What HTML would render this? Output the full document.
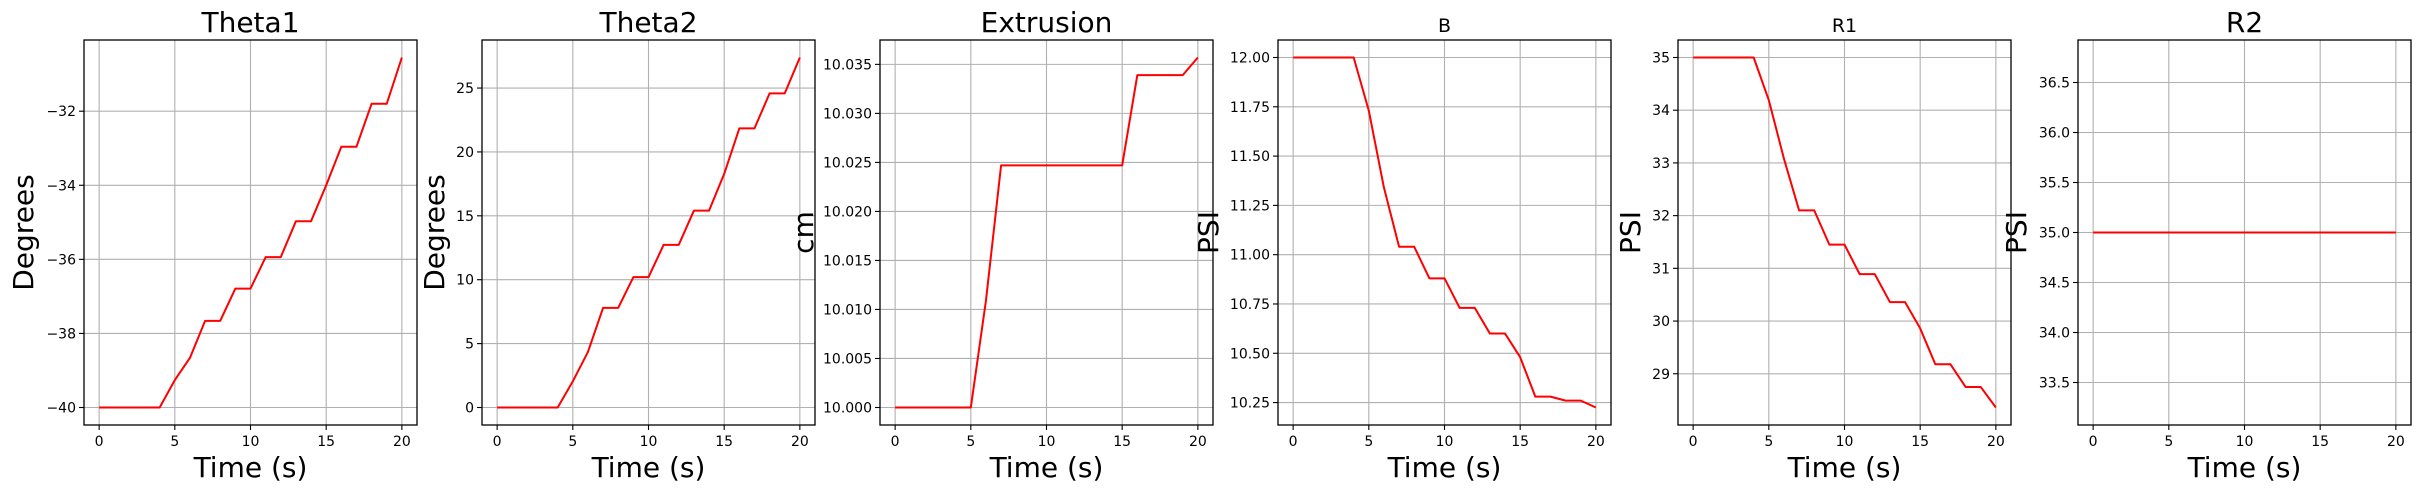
<!DOCTYPE html>
<html><head><meta charset="utf-8">
<style>
html,body{margin:0;padding:0;background:#fff;}
svg{display:block;font-family:"DejaVu Sans","Liberation Sans",sans-serif;}
</style></head>
<body>
<svg id="fig" width="2417" height="492" viewBox="0 0 2417 492" xmlns="http://www.w3.org/2000/svg"></svg>
<script>
const times = [0,1,2,3,4,5,6,7,8,9,10,11,12,13,14,15,16,17,18,19,20];
const xTicks = [0,5,10,15,20];
const theta1Values = [-40,-40,-40,-40,-40,-39.26,-38.66,-37.66,-37.66,-36.79,-36.79,-35.94,-35.94,-34.97,-34.97,-34.0,-32.96,-32.96,-31.8,-31.8,-30.55];
const theta2Values = [0,0,0,0,0,2.05,4.35,7.8,7.8,10.2,10.2,12.73,12.73,15.41,15.41,18.28,21.84,21.84,24.58,24.58,27.39];
const extrusionValues = [10,10,10,10,10,10,10.0109,10.0247,10.0247,10.0247,10.0247,10.0247,10.0247,10.0247,10.0247,10.0247,10.0339,10.0339,10.0339,10.0339,10.0357];
const bValues = [12,12,12,12,12,11.73,11.34,11.04,11.04,10.88,10.88,10.73,10.73,10.60,10.60,10.48,10.28,10.28,10.26,10.26,10.225];
const r1Values = [35,35,35,35,35,34.19,33.08,32.1,32.1,31.45,31.45,30.89,30.89,30.36,30.36,29.86,29.18,29.18,28.75,28.75,28.36];
const r2Values = [35,35,35,35,35,35,35,35,35,35,35,35,35,35,35,35,35,35,35,35,35];
const theta1Ticks = [-40,-38,-36,-34,-32];
const theta2Ticks = [0,5,10,15,20,25];
const extrusionTicks = [10.000,10.005,10.010,10.015,10.020,10.025,10.030,10.035];
const bTicks = [10.25,10.50,10.75,11.00,11.25,11.50,11.75,12.00];
const r1Ticks = [29,30,31,32,33,34,35];
const r2Ticks = [33.5,34.0,34.5,35.0,35.5,36.0,36.5];

const NS = "http://www.w3.org/2000/svg";
const svg = document.getElementById('fig');
function mk(tag, attrs, parent){const e=document.createElementNS(NS,tag);for(const k in attrs)e.setAttribute(k,attrs[k]);(parent||svg).appendChild(e);return e;}
const fmt = (v,d)=>{const s=v.toFixed(d);return s.replace('-','\u2212');};

const panels = [
 {key:'theta1',title:'Theta1',big:true,ylabel:'Degrees',vals:theta1Values,ticks:theta1Ticks,dec:0,left:84,ylx:23},
 {key:'theta2',title:'Theta2',big:true,ylabel:'Degrees',vals:theta2Values,ticks:theta2Ticks,dec:0,left:482,ylx:434},
 {key:'extrusion',title:'Extrusion',big:true,ylabel:'cm',vals:extrusionValues,ticks:extrusionTicks,dec:3,left:880,ylx:803},
 {key:'b',title:'B',big:false,ylabel:'PSI',vals:bValues,ticks:bTicks,dec:2,left:1278,ylx:1208},
 {key:'r1',title:'R1',big:false,ylabel:'PSI',vals:r1Values,ticks:r1Ticks,dec:0,left:1678,ylx:1630},
 {key:'r2',title:'R2',big:true,ylabel:'PSI',vals:r2Values,ticks:r2Ticks,dec:1,left:2078,ylx:2016}
];
const W=333, TOP=40, BOT=425;

panels.forEach(p=>{
  const g = mk('g',{});
  
  
  let mn=Math.min(...p.vals), mx=Math.max(...p.vals);
  if(mx===mn){const d=Math.abs(mn)*0.05||1;mn-=d;mx+=d;}
  const r=mx-mn; const y0=mn-0.05*r, y1=mx+0.05*r;
  const xs = v=>p.left+(v+1)/22*W;
  const ys = v=>BOT-(v-y0)/(y1-y0)*(BOT-TOP);
  // grid
  xTicks.forEach(t=>{
    const l=mk('line',{x1:xs(t),x2:xs(t),y1:TOP,y2:BOT,stroke:'#b0b0b0','stroke-width':1.1},g);
    
    
    const tk=mk('line',{x1:xs(t),x2:xs(t),y1:BOT,y2:BOT+5,stroke:'#000','stroke-width':1.1},g);
    
    
    const tx=mk('text',{x:xs(t),y:BOT+21,'font-size':14,'text-anchor':'middle',fill:'#000'},g);
    tx.textContent=String(t);
    
    
  });
  p.ticks.forEach(t=>{
    const l=mk('line',{x1:p.left,x2:p.left+W,y1:ys(t),y2:ys(t),stroke:'#b0b0b0','stroke-width':1.1},g);
    
    
    const tk=mk('line',{x1:p.left-5,x2:p.left,y1:ys(t),y2:ys(t),stroke:'#000','stroke-width':1.1},g);
    
    
    const tx=mk('text',{x:p.left-8,y:ys(t)+5,'font-size':14,'text-anchor':'end',fill:'#000'},g);
    tx.textContent=fmt(t,p.dec);
    
    
  });
  // line
  const pts=times.map((t,i)=>xs(t).toFixed(2)+','+ys(p.vals[i]).toFixed(2)).join(' ');
  const pl=mk('polyline',{points:pts,fill:'none',stroke:'#ff0000','stroke-width':2,'stroke-linejoin':'round'},g);
  
  
  // frame
  const fr=mk('rect',{x:p.left,y:TOP,width:W,height:BOT-TOP,fill:'none',stroke:'#000','stroke-width':1.3},g);
  
  
  // title
  const ti=mk('text',{x:p.left+W/2,y:32,'font-size':p.big?28:19,'text-anchor':'middle',fill:'#000'},g);
  ti.textContent=p.title;
  
  
  const xl=mk('text',{x:p.left+W/2,y:477,'font-size':28,'text-anchor':'middle',fill:'#000'},g);
  xl.textContent='Time (s)';
  
  
  const yl=mk('text',{x:0,y:0,'font-size':28,'text-anchor':'middle',fill:'#000',transform:`translate(${p.ylx+10},${(TOP+BOT)/2}) rotate(-90)`},g);
  yl.textContent=p.ylabel;
  
  
});
</script>
</body></html>
